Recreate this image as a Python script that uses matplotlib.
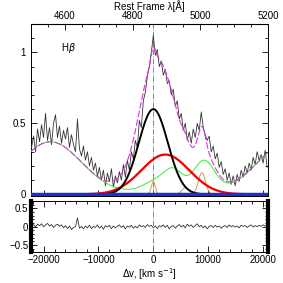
import numpy as np
import matplotlib
matplotlib.use("Agg")
import matplotlib.pyplot as plt
from matplotlib.ticker import MultipleLocator, FuncFormatter, FixedLocator

plt.rcParams['font.family'] = ['Liberation Sans', 'DejaVu Sans']

C_KMS = 299792.458
LAM0 = 4861.33
lam_range = [4500, 5200]
lam_ticks = [4600, 4800, 5000, 5200]

# observed spectrum (normalised flux), regularly sampled in velocity
spec_v_range = [-22180, 20725]
flux = [0.33, 0.41, 0.30, 0.46, 0.37, 0.49, 0.40, 0.57, 0.38, 0.47,
        0.35, 0.50, 0.56, 0.40, 0.48, 0.36, 0.45, 0.39, 0.47, 0.33,
        0.42, 0.35, 0.30, 0.53, 0.32, 0.27, 0.34, 0.24, 0.30, 0.20,
        0.26, 0.17, 0.22, 0.13, 0.19, 0.10, 0.17, 0.06, 0.15, 0.09,
        0.18, 0.05, 0.13, 0.08, 0.16, 0.10, 0.21, 0.12, 0.24, 0.17,
        0.30, 0.25, 0.38, 0.33, 0.52, 0.47, 0.66, 0.72, 0.83, 0.90,
        1.00, 1.12, 0.98, 1.02, 0.90, 0.94, 0.84, 0.88, 0.78, 0.80,
        0.70, 0.74, 0.62, 0.66, 0.53, 0.57, 0.45, 0.50, 0.38, 0.44,
        0.36, 0.46, 0.40, 0.50, 0.45, 0.58, 0.47, 0.42, 0.38, 0.41,
        0.30, 0.34, 0.25, 0.29, 0.19, 0.23, 0.14, 0.18, 0.10, 0.15,
        0.07, 0.13, 0.06, 0.14, 0.09, 0.17, 0.12, 0.20, 0.15, 0.22,
        0.17, 0.26, 0.21, 0.30, 0.24, 0.28, 0.22, 0.31, 0.19]

resid = [0.02, 0.06, -0.01, 0.07, 0.03, 0.08, 0.00, 0.05, 0.09, 0.02,
         0.06, -0.02, 0.04, 0.07, 0.01, 0.05, -0.03, 0.03, -0.05, 0.02,
         -0.08, -0.02, 0.00, 0.24, -0.04, 0.01, -0.06, 0.02, -0.03, 0.04,
         -0.05, 0.01, -0.02, 0.05, -0.04, 0.02, -0.07, 0.03, -0.01, 0.04,
         -0.05, 0.02, -0.03, 0.01, 0.05, -0.02, 0.03, -0.06, 0.02, -0.01,
         0.04, -0.04, 0.01, -0.03, 0.05, 0.00, 0.03, -0.02, 0.06, 0.01,
         0.04, -0.03, 0.02, -0.05, 0.03, 0.00, 0.05, -0.02, 0.04, -0.06,
         0.01, 0.03, -0.04, 0.02, 0.06, -0.01, 0.04, -0.03, 0.07, 0.01,
         0.05, -0.02, 0.03, 0.08, 0.00, 0.04, -0.03, 0.02, -0.06, 0.01,
         0.03, -0.02, 0.04, -0.01, 0.02, -0.04, 0.01, 0.03, -0.02, 0.05,
         0.00, 0.03, -0.01, 0.02, -0.03, 0.04, 0.01, 0.03, -0.02, 0.02,
         0.05, -0.01, 0.03, 0.00, 0.04, 0.01, 0.05, 0.02, 0.03]

# fitted Gaussian components: (amplitude, centre [km/s], sigma [km/s])
broad1 = [(0.60, 0, 2640)]
broad2 = [(0.28, 2180, 4360)]
narrow = [(0.09, 0, 360), (0.047, 5820, 640), (0.153, 8850, 640)]
feii = [(0.37, -18730, 5640), (0.06, 360, 2180), (0.05, 6730, 7270),
        (0.12, 3640, 1640), (0.19, 9270, 1820), (0.32, 23090, 4545)]


def lam2v(l):
    return (np.asarray(l) / LAM0 - 1.0) * C_KMS


def v2lam(v):
    return LAM0 * (1.0 + np.asarray(v) / C_KMS)


def comp(v, pars):
    out = np.zeros_like(v)
    for a, c, s in pars:
        out += a * np.exp(-0.5 * ((v - c) / s) ** 2)
    return out


xlim = (float(lam2v(lam_range[0])), float(lam2v(lam_range[1])))
vm = np.linspace(xlim[0], xlim[1], 800)
g_b1 = comp(vm, broad1)
g_b2 = comp(vm, broad2)
g_n = comp(vm, narrow)
g_fe = comp(vm, feii)
total = g_b1 + g_b2 + g_n + g_fe

vs = np.linspace(spec_v_range[0], spec_v_range[1], len(flux))
vr = np.linspace(spec_v_range[0], spec_v_range[1], len(resid))

fig = plt.figure(figsize=(2.83, 2.83), dpi=100)
ax1 = fig.add_axes([0.1095, 0.3074, 0.8375, 0.6078])
ax2 = fig.add_axes([0.1095, 0.1078, 0.8375, 0.182])

fs = 7
ax1.plot(vs, flux, color='#333333', lw=0.6, zorder=3)
ax1.plot(vm, g_fe, color='#33ee33', lw=0.7, zorder=4)
ax1.plot(vm, g_n, color='#d09a50', lw=0.7, zorder=4)
ax1.plot(vm, g_b2, color='#ee0000', lw=1.6, zorder=5)
ax1.plot(vm, g_b1, color='black', lw=1.4, zorder=5)
ax1.plot(vm, total, color='#dd33dd', lw=0.8, ls=(0, (6, 2)), zorder=6)
ax1.axhline(0, color='#1f2fcc', lw=2.5, zorder=7)
ax1.axvline(0, color='0.45', lw=0.6, ls='-.', zorder=2)
ax1.text(-16900, 1.03, r'H$\beta$', fontsize=fs, ha='left', va='center')

ax1.set_xlim(xlim)
ax1.set_ylim(-0.012, 1.2)
ax1.yaxis.set_major_locator(MultipleLocator(0.5))
ax1.yaxis.set_minor_locator(MultipleLocator(0.1))
ax1.xaxis.set_major_locator(MultipleLocator(10000))
ax1.xaxis.set_minor_locator(MultipleLocator(4000))
ax1.yaxis.set_major_formatter(FuncFormatter(lambda y, p: '%g' % y))
ax1.tick_params(axis='x', which='both', labelbottom=False, top=False)
ax1.tick_params(which='both', direction='in', right=True, width=0.6, labelsize=fs)
ax1.tick_params(which='major', length=4)
ax1.tick_params(which='minor', length=2)

sec = ax1.secondary_xaxis('top', functions=(v2lam, lam2v))
sec.xaxis.set_major_locator(FixedLocator(lam_ticks))
sec.xaxis.set_minor_locator(MultipleLocator(50))
sec.tick_params(which='both', direction='in', width=0.6, labelsize=fs, pad=2)
sec.tick_params(which='major', length=4)
sec.tick_params(which='minor', length=2)
sec.set_xlabel('Rest Frame λ[Å]', fontsize=fs, labelpad=1)

ax2.plot(vr, resid, color='#333333', lw=0.6)
ax2.axvline(0, color='0.45', lw=0.6, ls='-.')
ax2.set_xlim(xlim)
ax2.set_ylim(-0.7, 0.7)
ax2.yaxis.set_major_locator(MultipleLocator(0.5))
ax2.yaxis.set_minor_locator(MultipleLocator(0.1))
ax2.xaxis.set_major_locator(MultipleLocator(10000))
ax2.xaxis.set_minor_locator(MultipleLocator(2000))
ax2.yaxis.set_major_formatter(FuncFormatter(lambda y, p: '%g' % y if y >= 0 else '\u2212%g' % -y))
ax2.xaxis.set_major_formatter(FuncFormatter(lambda x, p: '%d' % x if x >= 0 else '\u2212%d' % -x))
ax2.tick_params(which='both', direction='in', top=True, right=True, width=0.6, labelsize=fs, pad=2)
ax2.tick_params(which='major', length=4)
ax2.tick_params(which='minor', length=2)
ax2.spines['left'].set_linewidth(3)
ax2.spines['right'].set_linewidth(3)
ax2.set_xlabel(r'$\Delta$v, [km s$^{-1}$]', fontsize=fs, labelpad=1)

for ax in (ax1, ax2):
    for s in ('top', 'bottom'):
        ax.spines[s].set_linewidth(0.7)
ax1.spines['left'].set_linewidth(0.7)
ax1.spines['right'].set_linewidth(0.7)

fig.savefig('out.png', dpi=100)
